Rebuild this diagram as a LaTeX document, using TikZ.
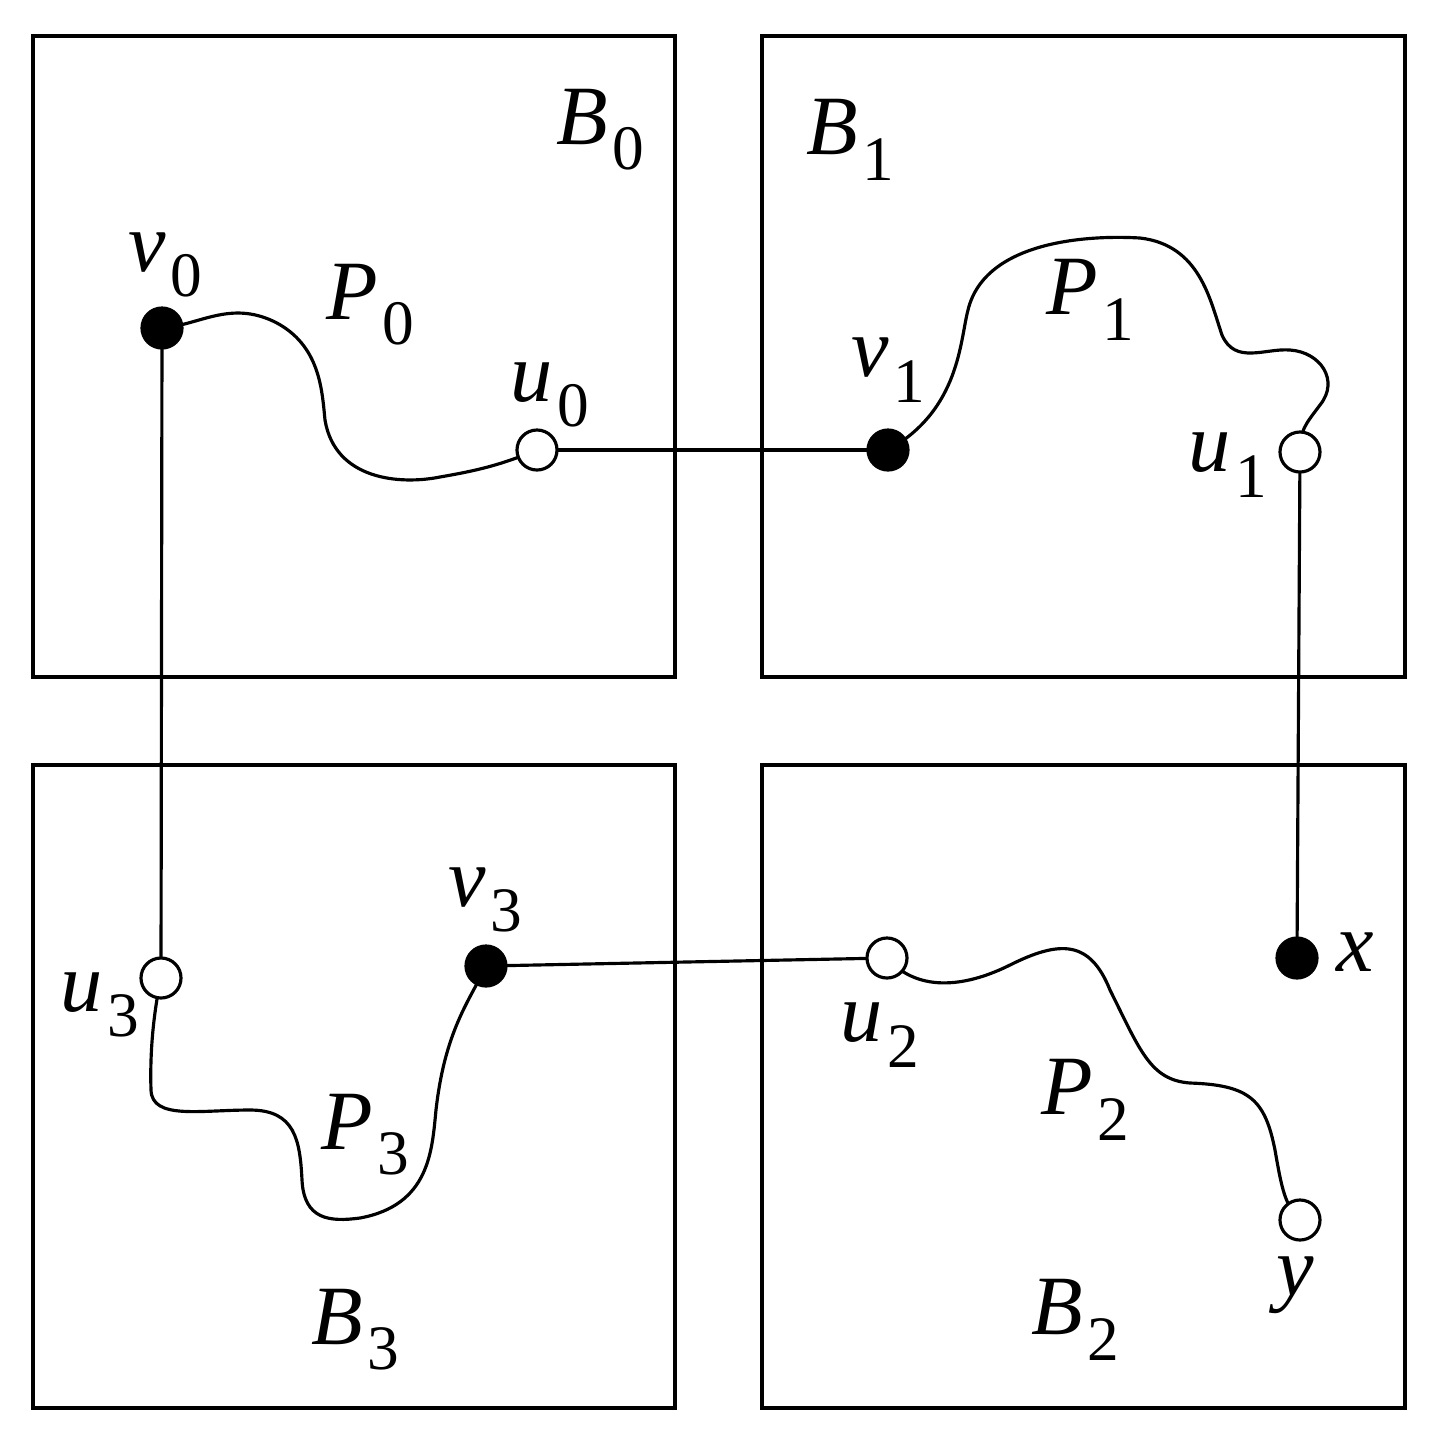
\documentclass[tikz,border=0pt]{standalone}
\usepackage{fontspec}
\setmainfont{Liberation Serif}
\newcommand{\lab}[2]{\textit{#1}\kern0.05em\raisebox{-0.3em}{\fontsize{18}{20}\selectfont #2}}
\begin{document}
\begin{tikzpicture}[x=0.01cm,y=-0.01cm,line width=0.9pt,
 box/.style={draw},
 full/.style={circle,draw,fill=black,minimum size=0.4cm,inner sep=0pt},
 hollow/.style={circle,draw,fill=white,minimum size=0.4cm,inner sep=0pt},
 lb/.style={font=\fontsize{24}{28}\selectfont,inner sep=0pt}]
\useasboundingbox (0,0) rectangle (1435,1441);
\draw[box] (33,36) rectangle (675,677);
\draw[box] (762,36) rectangle (1405,677);
\draw[box] (33,765) rectangle (675,1408);
\draw[box] (762,765) rectangle (1405,1408);
\coordinate (a0) at (162,328);
\coordinate (a1) at (537,450);
\coordinate (a2) at (888,450);
\coordinate (a3) at (1300,452);
\coordinate (a4) at (1297,958);
\coordinate (a5) at (887,958);
\coordinate (a6) at (486,966);
\coordinate (a7) at (161,978);
\coordinate (a8) at (1300,1220);
\draw (a0) -- (a7);
\draw (a1) -- (a2);
\draw (a3) -- (a4);
\draw (a6) -- (a5);
% P0
\draw (a0) .. controls (200,325) and (230,300) .. (275,322) .. controls (320,345) and (322,390) .. (325,420) .. controls (335,480) and (400,485) .. (440,477) .. controls (480,470) and (500,465) .. (a1);
% P1
\draw (a2) .. controls (960,410) and (960,340) .. (968,310) .. controls (985,240) and (1090,235) .. (1140,238) .. controls (1200,245) and (1210,300) .. (1222,335) .. controls (1235,365) and (1265,348) .. (1290,350) .. controls (1320,352) and (1340,380) .. (1320,405) .. controls (1305,425) and (1300,430) .. (a3);
% P2
\draw (a5) .. controls (920,995) and (970,985) .. (1010,965) .. controls (1060,940) and (1090,940) .. (1110,990) .. controls (1140,1050) and (1150,1080) .. (1190,1083) .. controls (1250,1085) and (1265,1100) .. (1275,1150) .. controls (1282,1190) and (1285,1205) .. (a8);
% P3
\draw (a7) .. controls (152,1020) and (150,1060) .. (151,1090) .. controls (152,1120) and (200,1110) .. (250,1110) .. controls (295,1110) and (300,1140) .. (302,1180) .. controls (304,1220) and (330,1222) .. (360,1218) .. controls (430,1205) and (432,1150) .. (436,1110) .. controls (445,1030) and (470,1000) .. (a6);
\node[full] (v0) at (a0) {};
\node[hollow] (u0) at (a1) {};
\node[full] (v1) at (a2) {};
\node[hollow] (u1) at (a3) {};
\node[full] (x) at (a4) {};
\node[hollow] (u2) at (a5) {};
\node[full] (v3) at (a6) {};
\node[hollow] (u3) at (a7) {};
\node[hollow] (y) at (a8) {};
\node[lb] (lB0) at (600,130) {\lab{B}{0}};
\node[lb] (lB1) at (850,140) {\lab{B}{1}};
\node[lb] (lB3) at (355,1330) {\lab{B}{3}};
\node[lb] (lB2) at (1075,1320) {\lab{B}{2}};
\node[lb] (lv0) at (165,265) {\lab{v}{0}};
\node[lb] (lP0) at (370,305) {\lab{P}{0}};
\node[lb] (lu0) at (550,395) {\lab{u}{0}};
\node[lb] (lv1) at (888,370) {\lab{v}{1}};
\node[lb] (lP1) at (1090,300) {\lab{P}{1}};
\node[lb] (lu1) at (1228,465) {\lab{u}{1}};
\node[lb] (lx) at (1355,952) {\textit{x}};
\node[lb] (lu2) at (880,1035) {\lab{u}{2}};
\node[lb] (lP2) at (1085,1100) {\lab{P}{2}};
\node[lb] (lv3) at (485,900) {\lab{v}{3}};
\node[lb] (lu3) at (100,1005) {\lab{u}{3}};
\node[lb] (lP3) at (365,1135) {\lab{P}{3}};
\node[lb] (ly) at (1295,1285) {\textit{y}};
\end{tikzpicture}
\end{document}
